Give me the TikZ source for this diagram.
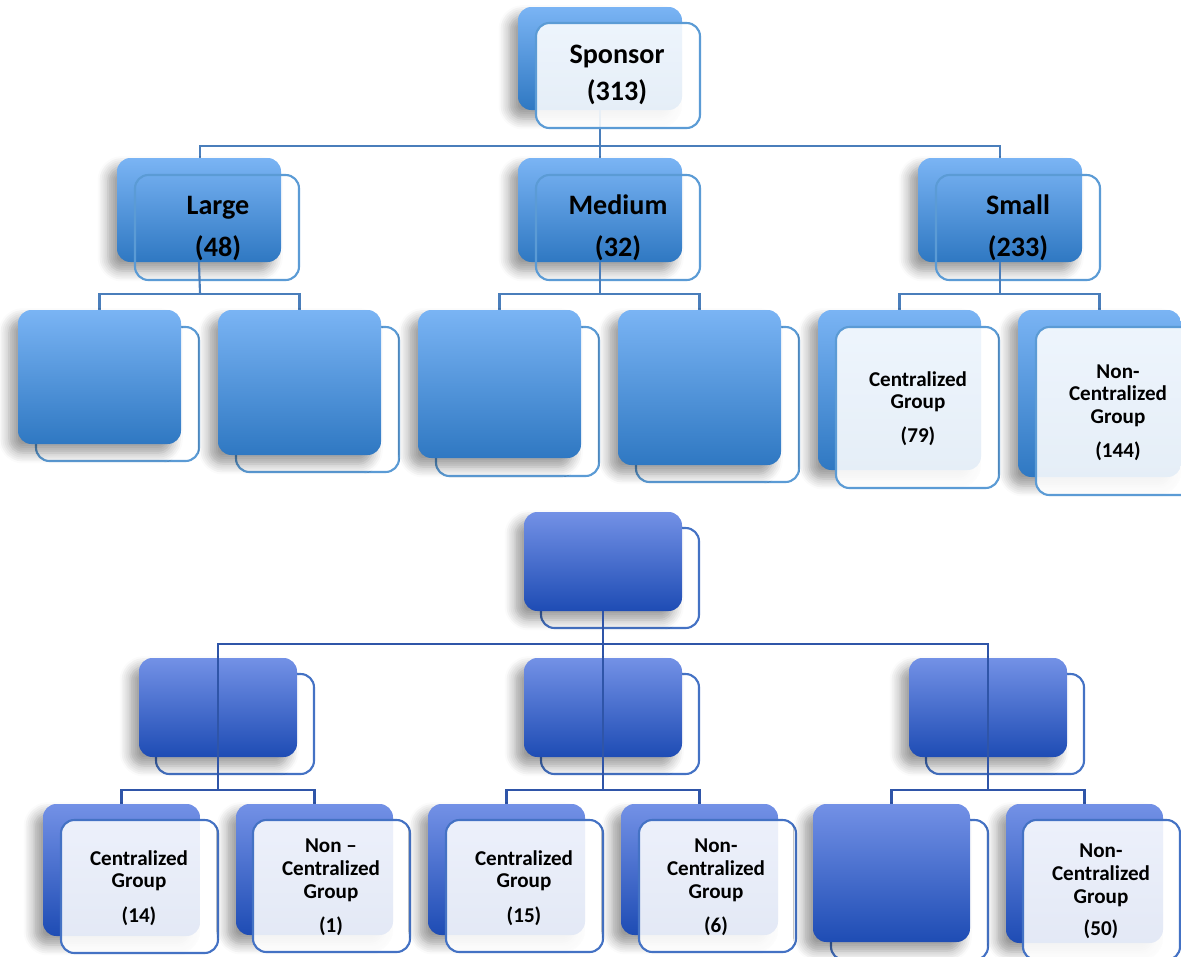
\documentclass[tikz,border=0pt]{standalone}
\usepackage{fontspec}
\setmainfont{Carlito}
\usetikzlibrary{shadows.blur}
\definecolor{btA}{HTML}{7AB4F4}
\definecolor{btB}{HTML}{2F78C2}
\definecolor{bbA}{HTML}{7391E6}
\definecolor{bbB}{HTML}{1E4CB4}
\definecolor{otop}{HTML}{5B9BD5}
\definecolor{obot}{HTML}{4472C4}
\definecolor{ctop}{HTML}{4A7EBB}
\definecolor{cbot}{HTML}{2F55A8}
\newcommand\bx[6]{\node[#1, minimum width={(#5-#3)*0.01cm}, minimum height={(#6-#4)*0.01cm}] (#2) at ({(#3+#5)/2},{(#4+#6)/2}) {};}
\newcommand\tbig[4]{\node[bigtxt] (#1) at (#2,#3) {#4};}
\newcommand\tsml[4]{\node[smltxt] (#1) at (#2,#3) {#4};}
\begin{document}
\begin{tikzpicture}[x=0.01cm,y=-0.01cm,
  boxbase/.style={rectangle, rounded corners=3.8pt, inner sep=0pt, outer sep=0pt},
  shad/.style={blur shadow={shadow xshift=-2.5pt, shadow yshift=-2.5pt, shadow blur radius=3pt, shadow blur steps=6, shadow opacity=40}},
  bluet/.style={boxbase, shad, top color=btA, bottom color=btB, draw=none},
  blueb/.style={boxbase, shad, top color=bbA, bottom color=bbB, draw=none},
  outt/.style={boxbase, draw=otop, line width=0.6pt},
  outb/.style={boxbase, draw=obot, line width=0.6pt},
  lightt/.style={outt, fill=white, fill opacity=0.88},
  lightb/.style={outb, fill=white, fill opacity=0.88},
  ct/.style={draw=ctop, line width=0.6pt},
  cb/.style={draw=cbot, line width=0.6pt},
  bigtxt/.style={anchor=base, inner sep=0pt, font=\bfseries\fontsize{8}{9}\selectfont},
  smltxt/.style={anchor=base, inner sep=0pt, font=\bfseries\fontsize{6}{7}\selectfont}]
\clip (0,0) rectangle (1181,957);
\useasboundingbox (0,0) rectangle (1181,957);

% ---------- coordinates of buses ----------
\coordinate (busS) at (600,146);
\coordinate (busL) at (200,294);
\coordinate (busM) at (600,294);
\coordinate (busSm) at (1000,294);
\coordinate (busR) at (603,644);
\coordinate (busA) at (218,790);
\coordinate (busB) at (603,790);
\coordinate (busC) at (988,790);

% ---------- top part ----------
% Sponsor
\bx{bluet}{sponB}{518}{7}{682}{110}
\draw[ct] (sponB.south) -- (busS);
\bx{lightt}{sponF}{536}{23}{700}{128}
\tbig{t1}{617}{63}{Sponsor}
\tbig{t2}{617}{100}{(313)}

% level 2 connectors
\draw[ct] (busS) -- (600,158);
\draw[ct] (200,158) |- (busS) -| (1000,158);
% Large / Medium / Small
\bx{bluet}{largeB}{117}{158}{281}{262}
\bx{outt}{largeF}{135}{175}{299}{280}
\bx{bluet}{medB}{518}{158}{682}{262}
\bx{outt}{medF}{536}{175}{700}{280}
\bx{bluet}{smallB}{918}{158}{1082}{262}
\bx{outt}{smallF}{936}{175}{1100}{280}
\tbig{t3}{218}{214}{Large}
\tbig{t4}{218}{256}{(48)}
\tbig{t5}{618}{214}{Medium}
\tbig{t6}{618}{256}{(32)}
\tbig{t7}{1018}{214}{Small}
\tbig{t8}{1018}{256}{(233)}

% level 3 connectors (top)
\draw[ct] (largeB.south) -- (busL);
\draw[ct] (medB.south) -- (busM);
\draw[ct] (smallB.south) -- (busSm);
\draw[ct] (99.5,310) |- (busL) -| (299.5,310);
\draw[ct] (499.5,310) |- (busM) -| (699.5,310);
\draw[ct] (899.5,310) |- (busSm) -| (1099.5,310);

% level 3 boxes (top)
\bx{outt}{l1F}{36}{327}{199}{461}
\bx{bluet}{l1B}{18}{310}{181}{444}
\bx{outt}{l2F}{236}{327}{399}{472}
\bx{bluet}{l2B}{218}{310}{381}{455}
\bx{outt}{m1F}{436}{327}{599}{476}
\bx{bluet}{m1B}{418}{310}{581}{458}
\bx{outt}{m2F}{636}{327}{799}{482}
\bx{bluet}{m2B}{618}{310}{781}{465}
\bx{bluet}{s1B}{818}{310}{981}{470}
\bx{lightt}{s1F}{836}{327}{999}{488}
\bx{bluet}{s2B}{1018}{310}{1181}{477}
\bx{lightt}{s2F}{1036}{327}{1199}{495}
\tsml{t9}{918}{386}{Centralized}
\tsml{t10}{918}{408}{Group}
\tsml{t11}{918}{442}{(79)}
\tsml{t12}{1118}{378}{Non-}
\tsml{t13}{1118}{400}{Centralized}
\tsml{t14}{1118}{423}{Group}
\tsml{t15}{1118}{457}{(144)}

% ---------- bottom part ----------
\bx{outb}{rootF}{541}{528}{699}{628}
\bx{blueb}{rootB}{524}{512}{682}{611}
\draw[cb] (rootB.south) -- (busR);
\draw[cb] (218,658) |- (busR) -| (988,658);
\draw[cb] (busR) -- (603,658);

\bx{outb}{aF}{156}{674}{314}{774}
\bx{blueb}{aB}{139}{658}{297}{757}
\bx{outb}{bF}{541}{674}{699}{774}
\bx{blueb}{bB}{524}{658}{682}{757}
\bx{outb}{cF}{926}{674}{1084}{774}
\bx{blueb}{cB}{909}{658}{1067}{757}

\draw[cb] (aB.north) -- (busA);
\draw[cb] (bB.north) -- (busB);
\draw[cb] (cB.north) -- (busC);
\draw[cb] (121.5,804) |- (busA) -| (314.5,804);
\draw[cb] (506.5,804) |- (busB) -| (699.5,804);
\draw[cb] (891.5,804) |- (busC) -| (1084.5,804);

\bx{blueb}{a1B}{43}{804}{200}{936}
\bx{lightb}{a1F}{61}{820}{218}{953}
\bx{blueb}{a2B}{236}{804}{393}{935}
\bx{lightb}{a2F}{253}{820}{410}{952}
\bx{blueb}{b1B}{428}{804}{585}{935}
\bx{lightb}{b1F}{446}{820}{603}{952}
\bx{blueb}{b2B}{621}{804}{778}{935}
\bx{lightb}{b2F}{639}{820}{796}{952}
\bx{outb}{c1F}{831}{820}{988}{960}
\bx{blueb}{c1B}{813}{804}{970}{942}
\bx{blueb}{c2B}{1006}{804}{1163}{943}
\bx{lightb}{c2F}{1023}{820}{1180}{960}

\tsml{t16}{139}{865}{Centralized}
\tsml{t17}{139}{887}{Group}
\tsml{t18}{139}{922}{(14)}
\tsml{t19}{331}{852}{Non –}
\tsml{t20}{331}{875}{Centralized}
\tsml{t21}{331}{898}{Group}
\tsml{t22}{331}{932}{(1)}
\tsml{t23}{524}{865}{Centralized}
\tsml{t24}{524}{887}{Group}
\tsml{t25}{524}{922}{(15)}
\tsml{t26}{716}{852}{Non-}
\tsml{t27}{716}{875}{Centralized}
\tsml{t28}{716}{898}{Group}
\tsml{t29}{716}{932}{(6)}
\tsml{t30}{1101}{857}{Non-}
\tsml{t31}{1101}{880}{Centralized}
\tsml{t32}{1101}{903}{Group}
\tsml{t33}{1101}{935}{(50)}
\end{tikzpicture}
\end{document}
